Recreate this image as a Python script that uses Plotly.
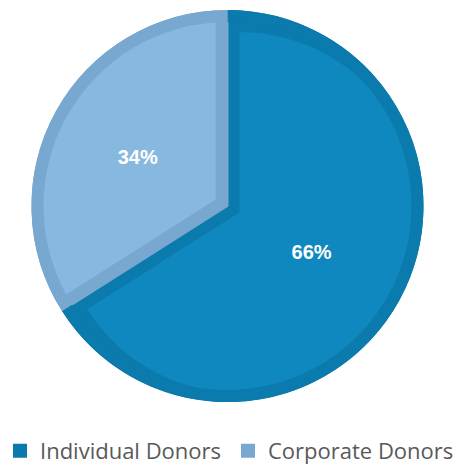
import plotly.graph_objects as go

labels = ["Individual Donors", "Corporate Donors"]
values = [66, 34]
fill_colors = ["#0E88BE", "#86B8E0"]
border_colors = ["#0B7AAD", "#78A8D0"]

W, H = 453, 465
# pie geometry (pixels)
cx, cy, R = 227.5, 206.0, 196.0
border = 12.0


def dom(r):
    return dict(x=[(cx - r) / W, (cx + r) / W], y=[1 - (cy + r) / H, 1 - (cy - r) / H])


r_light_box = R - 2
gap_shift = 13.5
pull = gap_shift / (r_light_box - gap_shift)

common = dict(labels=labels, values=values, sort=False, direction="clockwise",
              rotation=0)

fig = go.Figure()
# base: dark colours, full circle
fig.add_trace(go.Pie(**common, domain=dom(R - 1),
                     marker=dict(colors=border_colors, line=dict(color=border_colors, width=2)),
                     textinfo="none", hoverinfo="skip", showlegend=True))
# light inner pieces separated from the slice edges
fig.add_trace(go.Pie(**common, domain=dom(r_light_box), pull=[pull, pull],
                     marker=dict(colors=fill_colors), textinfo="none",
                     hoverinfo="label+percent", showlegend=False))
# outer ring border
fig.add_trace(go.Pie(**common, domain=dom(R), hole=(R - border) / R,
                     marker=dict(colors=border_colors), textinfo="none",
                     hoverinfo="skip", showlegend=False))
# percentage labels
fig.add_trace(go.Pie(**common, domain=dom(192), marker=dict(colors=["rgba(0,0,0,0)"] * 2),
                     textinfo="percent", textposition="inside",
                     insidetextorientation="horizontal",
                     textfont=dict(family="Liberation Sans", size=20, color="white", weight="bold"),
                     hoverinfo="skip", showlegend=False))

fig.update_layout(
    width=W, height=H,
    margin=dict(l=0, r=0, t=0, b=0, autoexpand=False),
    paper_bgcolor="white", plot_bgcolor="white",
    legend=dict(orientation="h", x=0.0, xanchor="left",
                y=(H - 451) / H, yanchor="middle", entrywidth=183,
                font=dict(family="Open Sans", size=22, color="#595959"),
                traceorder="normal"),
)
fig.write_html("out.html", config={"displayModeBar": False},
               post_script="document.body.style.margin='0';")
